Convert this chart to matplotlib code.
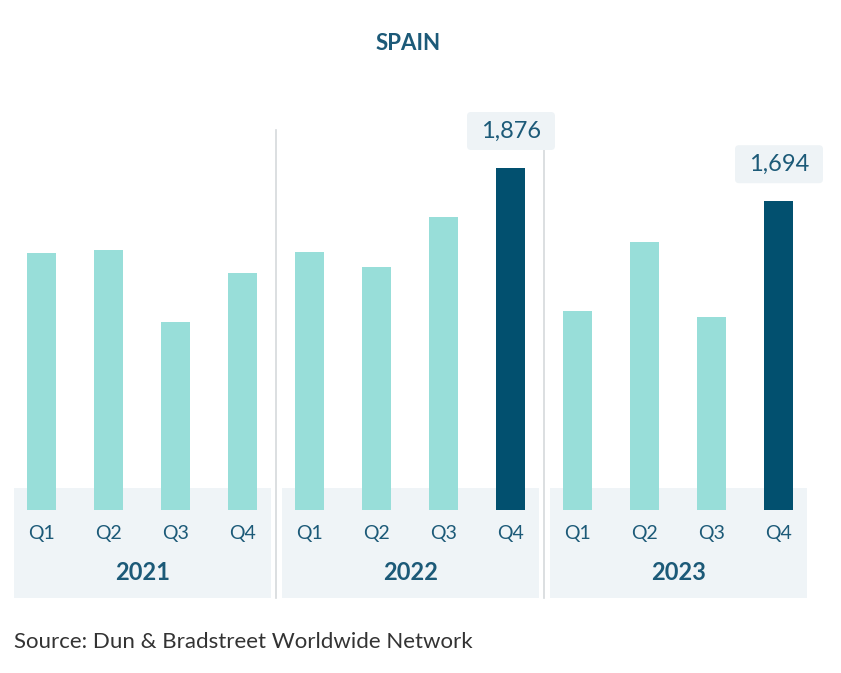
import matplotlib
matplotlib.use("Agg")
import matplotlib.pyplot as plt
from matplotlib.patches import FancyBboxPatch, Rectangle

years = ["2021", "2022", "2023"]
quarters = ["Q1", "Q2", "Q3", "Q4"]
values = {
    "2021": [1410, 1426, 1031, 1300],
    "2022": [1415, 1333, 1607, 1876],
    "2023": [1092, 1470, 1059, 1694],
}
highlight = {"2022": 3, "2023": 3}

LIGHT = "#98ded9"
DARK = "#02506f"
PANEL = "#eff4f7"
TEXT = "#1c5a78"

plt.rcParams['font.family'] = ['Lato', 'DejaVu Sans']
fig = plt.figure(figsize=(8.41, 6.73), dpi=100)
ax = fig.add_axes([0, 0, 1, 1])
S = 1876 / 342.0  # value per pixel
def py(p):  # pixel row -> data y
    return (510 - p) * S
ax.set_xlim(0, 841)
ax.set_ylim(py(673), py(0))
ax.axis("off")

panel_x = [14, 282, 550]
panel_w = 257
for i, y in enumerate(years):
    ax.add_patch(Rectangle((panel_x[i], py(598)), panel_w, py(488) - py(598),
                           color=PANEL, zorder=0, lw=0))
    x0 = panel_x[i] + 28
    for j, q in enumerate(quarters):
        xc = x0 + 67 * j
        v = values[y][j]
        col = DARK if highlight.get(y) == j else LIGHT
        ax.bar(xc, v, width=29, color=col, zorder=2)
        ax.text(xc, py(533), q, ha="center", va="center", fontsize=14,
                color=TEXT, zorder=3)
        if highlight.get(y) == j:
            ty = v + 37 * S
            ax.add_patch(FancyBboxPatch((xc - 44, ty - 19 * S), 88, 38 * S,
                                        boxstyle="round,pad=0,rounding_size=4",
                                        mutation_aspect=S, color="#eef3f6",
                                        lw=0, zorder=3))
            ax.text(xc, ty, f"{v:,}", ha="center", va="center", fontsize=17,
                    color=TEXT, zorder=4)
    ax.text(panel_x[i] + panel_w / 2, py(573), y, ha="center", va="center",
            fontsize=17, fontweight="bold", color=TEXT, zorder=3)

for xs in [276, 544]:
    ax.plot([xs, xs], [py(130), py(598)], color="#d5d9dc", lw=1.2, zorder=1)

ax.text(408, py(43), "SPAIN", ha="center", va="center", fontsize=16,
        fontweight="bold", color=TEXT)
ax.text(14, py(642), "Source: Dun & Bradstreet Worldwide Network", ha="left",
        va="center", fontsize=16, color="#333333")

fig.savefig("out.png", dpi=100, facecolor="white")
